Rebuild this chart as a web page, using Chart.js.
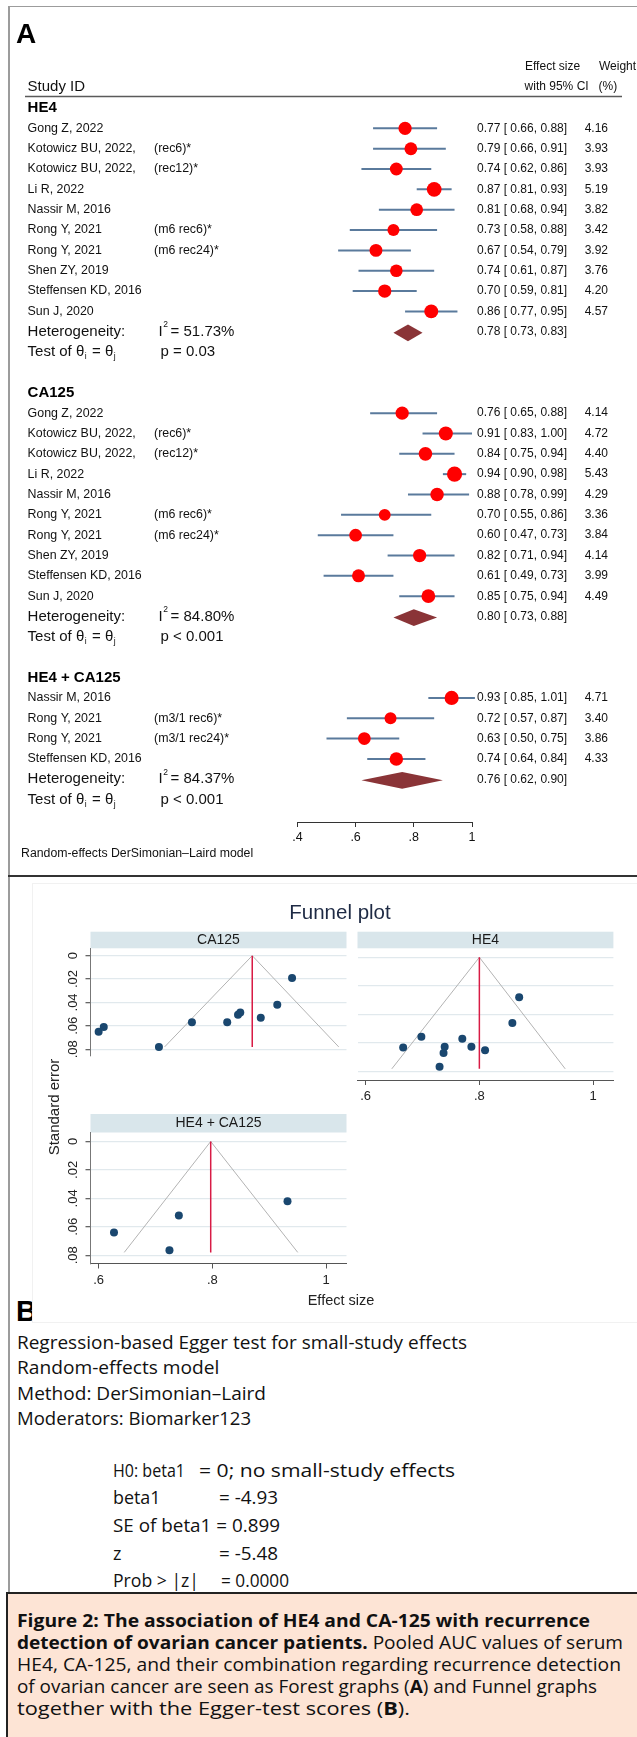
<!DOCTYPE html>
<html>
<head>
<meta charset="utf-8">
<script src="https://cdn.jsdelivr.net/npm/chart.js@4.4.1/dist/chart.umd.min.js"></script>
<style>
  html, body { margin: 0; padding: 0; background: #fff; }
  #page { position: relative; width: 637px; height: 1737px; overflow: hidden; background: #fff; }
  .abs { position: absolute; }
  canvas { position: absolute; z-index: 2; }
  .t { position: absolute; white-space: nowrap; transform-origin: 0 50%; line-height: 22px; height: 22px; color: #111; }
  .body17 { font-family: "Open Sans", "Noto Sans", sans-serif; font-size: 18px; }
  .cap { font-family: "Open Sans", "Noto Sans", sans-serif; font-size: 17.5px; color: #111; }
  .arial { font-family: "Liberation Sans", Arial, sans-serif; color: #222; }
</style>
</head>
<body>
<div id="page">
  <!-- outer frame and panel divider -->
  <div class="abs" style="left:8px;top:5.5px;width:629px;height:1.5px;background:#9c9c9c;"></div>
  <div class="abs" style="left:8px;top:5.5px;width:1.5px;height:1588px;background:#9c9c9c;"></div>
  <div class="abs" style="left:8px;top:874.5px;width:629px;height:2.2px;background:#333;"></div>

  <!-- panel letter B sits behind the funnel panel box -->
  <div class="abs" style="left:16px;top:1296px;font:bold 29px 'Liberation Sans', Arial, sans-serif;line-height:30px;color:#000;">B</div>
  <div class="abs" style="left:31.7px;top:883.3px;width:604px;height:437.4px;background:#fff;border:1px solid #f1f1f1;z-index:1;"></div>

  <canvas id="forest" width="637" height="875" style="left:0;top:0;width:637px;height:875px;"></canvas>
  <canvas id="funnelCa125" width="320" height="200" style="left:32px;top:884px;width:320px;height:200px;"></canvas>
  <canvas id="funnelHe4" width="280" height="230" style="left:352px;top:884px;width:280px;height:230px;"></canvas>
  <canvas id="funnelCombo" width="320" height="200" style="left:32px;top:1100px;width:320px;height:200px;"></canvas>

  <div class="abs arial" style="left:240px;top:898px;width:200px;text-align:center;font-size:20.5px;line-height:28px;color:#1e2a44;z-index:3;">Funnel plot</div>
  <div class="abs arial" style="left:4px;top:1098px;width:100px;text-align:center;font-size:15px;line-height:18px;transform:rotate(-90deg);z-index:3;">Standard error</div>
  <div class="abs arial" style="left:291px;top:1291px;width:100px;text-align:center;font-size:14.5px;line-height:18px;z-index:3;">Effect size</div>

  <!-- Egger regression output -->
  <div class="t body17" data-w="450" style="left:17px;top:1330.7px;">Regression-based Egger test for small-study effects</div>
  <div class="t body17" data-w="202.4" style="left:17px;top:1356.3px;">Random-effects model</div>
  <div class="t body17" data-w="249" style="left:17px;top:1381.7px;">Method: DerSimonian–Laird</div>
  <div class="t body17" data-w="234" style="left:17px;top:1407.3px;">Moderators: Biomarker123</div>

  <div class="t body17" data-w="72" style="left:113px;top:1459px;">H0: beta1</div>
  <div class="t body17" data-w="256" style="left:199px;top:1459px;">= 0; no small-study effects</div>
  <div class="t body17" data-w="47.5" style="left:113px;top:1485.7px;">beta1</div>
  <div class="t body17" data-w="59" style="left:219px;top:1485.7px;">= -4.93</div>
  <div class="t body17" data-w="167" style="left:113px;top:1514px;">SE of beta1 = 0.899</div>
  <div class="t body17" style="left:113px;top:1542.3px;">z</div>
  <div class="t body17" data-w="59" style="left:219px;top:1542.3px;">= -5.48</div>
  <div class="t body17" data-w="86" style="left:113px;top:1569px;">Prob &gt; |z|</div>
  <div class="t body17" data-w="68" style="left:221px;top:1569px;">= 0.0000</div>

  <!-- figure caption -->
  <div class="abs" style="left:6px;top:1592px;width:631px;height:145px;background:#fde4d5;border-top:2px solid #222;border-left:2px solid #222;"></div>
  <div class="t cap" data-w="573" style="left:17px;top:1609px;"><b>Figure 2: The association of HE4 and CA-125 with recurrence</b></div>
  <div class="t cap" data-w="606" style="left:17px;top:1631px;"><b>detection of ovarian cancer patients.</b> Pooled AUC values of serum</div>
  <div class="t cap" data-w="604" style="left:17px;top:1653px;">HE4, CA-125, and their combination regarding recurrence detection</div>
  <div class="t cap" data-w="580" style="left:17px;top:1675px;">of ovarian cancer are seen as Forest graphs (<b>A</b>) and Funnel graphs</div>
  <div class="t cap" data-w="393" style="left:17px;top:1697px;">together with the Egger-test scores (<b>B</b>).</div>
</div>

<script>
// ---------- forest plot data ----------
const groupNames = ['HE4', 'CA125', 'HE4 + CA125'];

const he4Study  = ['Gong Z, 2022', 'Kotowicz BU, 2022,', 'Kotowicz BU, 2022,', 'Li R, 2022', 'Nassir M, 2016',
                   'Rong Y, 2021', 'Rong Y, 2021', 'Shen ZY, 2019', 'Steffensen KD, 2016', 'Sun J, 2020'];
const he4Note   = ['', '(rec6)*', '(rec12)*', '', '', '(m6 rec6)*', '(m6 rec24)*', '', '', ''];
const he4Auc    = [0.77, 0.79, 0.74, 0.87, 0.81, 0.73, 0.67, 0.74, 0.70, 0.86];
const he4Lo     = [0.66, 0.66, 0.62, 0.81, 0.68, 0.58, 0.54, 0.61, 0.59, 0.77];
const he4Hi     = [0.88, 0.91, 0.86, 0.93, 0.94, 0.88, 0.79, 0.87, 0.81, 0.95];
const he4Weight = [4.16, 3.93, 3.93, 5.19, 3.82, 3.42, 3.92, 3.76, 4.20, 4.57];
const he4Pooled = [0.78, 0.73, 0.83];

const ca125Study  = ['Gong Z, 2022', 'Kotowicz BU, 2022,', 'Kotowicz BU, 2022,', 'Li R, 2022', 'Nassir M, 2016',
                     'Rong Y, 2021', 'Rong Y, 2021', 'Shen ZY, 2019', 'Steffensen KD, 2016', 'Sun J, 2020'];
const ca125Note   = ['', '(rec6)*', '(rec12)*', '', '', '(m6 rec6)*', '(m6 rec24)*', '', '', ''];
const ca125Auc    = [0.76, 0.91, 0.84, 0.94, 0.88, 0.70, 0.60, 0.82, 0.61, 0.85];
const ca125Lo     = [0.65, 0.83, 0.75, 0.90, 0.78, 0.55, 0.47, 0.71, 0.49, 0.75];
const ca125Hi     = [0.88, 1.00, 0.94, 0.98, 0.99, 0.86, 0.73, 0.94, 0.73, 0.94];
const ca125Weight = [4.14, 4.72, 4.40, 5.43, 4.29, 3.36, 3.84, 4.14, 3.99, 4.49];
const ca125Pooled = [0.80, 0.73, 0.88];

const comboStudy  = ['Nassir M, 2016', 'Rong Y, 2021', 'Rong Y, 2021', 'Steffensen KD, 2016'];
const comboNote   = ['', '(m3/1 rec6)*', '(m3/1 rec24)*', ''];
const comboAuc    = [0.93, 0.72, 0.63, 0.74];
const comboLo     = [0.85, 0.57, 0.50, 0.64];
const comboHi     = [1.01, 0.87, 0.75, 0.84];
const comboWeight = [4.71, 3.40, 3.86, 4.33];
const comboPooled = [0.76, 0.62, 0.90];

const i2Labels = ['51.73%', '84.80%', '84.37%'];
const pLabels  = ['p = 0.03', 'p < 0.001', 'p < 0.001'];

const forestTicks      = [0.4, 0.6, 0.8, 1];
const forestTickLabels = ['.4', '.6', '.8', '1'];

// ---------- funnel plot data (AUC against its standard error) ----------
const funnelCa125Auc = [0.600, 0.609, 0.706, 0.764, 0.826, 0.845, 0.849, 0.885, 0.914, 0.940];
const funnelCa125Se  = [0.065, 0.061, 0.078, 0.057, 0.057, 0.0505, 0.0485, 0.053, 0.042, 0.019];
const funnelHe4Auc   = [0.666, 0.698, 0.730, 0.739, 0.737, 0.770, 0.786, 0.810, 0.858, 0.870];
const funnelHe4Se    = [0.063, 0.0555, 0.0765, 0.0625, 0.067, 0.057, 0.0625, 0.065, 0.046, 0.028];
const funnelComboAuc = [0.627, 0.7245, 0.741, 0.932];
const funnelComboSe  = [0.064, 0.0765, 0.052, 0.042];

const funnelCentre = [0.87, 0.80, 0.797];   // CA125, HE4, HE4 + CA125
const funnelLeft   = [0.716, 0.646, 0.645];
const funnelRight  = [1.022, 0.951, 0.950];
const funnelSeMax  = 0.078;

const seTicks        = [0, 0.02, 0.04, 0.06, 0.08];
const seTickLabels   = ['0', '.02', '.04', '.06', '.08'];
const effTicks       = [0.6, 0.8, 1];
const effTickLabels  = ['.6', '.8', '1'];

// ---------- styling ----------
const FONT = '"Liberation Sans", Arial, sans-serif';
const font = (px, w) => (w ? w + ' ' : '') + px + 'px ' + FONT;
const ciColor = '#5a7a9c';
const markerColor = '#ff0000';
const diamondColor = '#8a3437';
const navy = '#1a476f';
const pooledLine = '#d81b45';
const funnelGrey = '#b3b3b3';
const gridColor = '#e1e9ed';
const stripColor = '#d9e6eb';

Chart.defaults.font.family = FONT;
Chart.defaults.color = '#222';

// ---------- build forest rows ----------
const groups = [
  { name: groupNames[0], study: he4Study, note: he4Note, auc: he4Auc, lo: he4Lo, hi: he4Hi, w: he4Weight, pooled: he4Pooled, i2: i2Labels[0], p: pLabels[0] },
  { name: groupNames[1], study: ca125Study, note: ca125Note, auc: ca125Auc, lo: ca125Lo, hi: ca125Hi, w: ca125Weight, pooled: ca125Pooled, i2: i2Labels[1], p: pLabels[1] },
  { name: groupNames[2], study: comboStudy, note: comboNote, auc: comboAuc, lo: comboLo, hi: comboHi, w: comboWeight, pooled: comboPooled, i2: i2Labels[2], p: pLabels[2] }
];
const forestPoints = [];
let row = 0;
groups.forEach(g => {
  g.headerRow = row;
  g.auc.forEach((a, i) => forestPoints.push({
    x: a, y: row + 1 + i, lo: g.lo[i], hi: g.hi[i], w: g.w[i], name: g.study[i], note: g.note[i]
  }));
  g.pooledRow = row + g.auc.length + 1.05;
  g.testRow = row + g.auc.length + 2;
  row += g.auc.length + 4;
});
const lastRow = row - 0.9;
const fmt = v => v.toFixed(2);

function text(ctx, s, x, y, f, align, color) {
  ctx.font = f;
  ctx.fillStyle = color || '#111';
  ctx.textAlign = align || 'left';
  ctx.textBaseline = 'middle';
  ctx.fillText(s, x, y);
}

const forestDecor = {
  id: 'forestDecor',
  beforeDatasetsDraw(chart) {
    const { ctx, scales: { x, y } } = chart;
    ctx.save();
    ctx.strokeStyle = ciColor;
    ctx.lineWidth = 2;
    forestPoints.forEach(p => {
      const py = y.getPixelForValue(p.y);
      ctx.beginPath();
      ctx.moveTo(x.getPixelForValue(p.lo), py);
      ctx.lineTo(x.getPixelForValue(p.hi), py);
      ctx.stroke();
    });
    ctx.fillStyle = diamondColor;
    groups.forEach(g => {
      const py = y.getPixelForValue(g.pooledRow);
      const [est, lo, hi] = g.pooled;
      ctx.beginPath();
      ctx.moveTo(x.getPixelForValue(lo), py);
      ctx.lineTo(x.getPixelForValue(est), py - 8.4);
      ctx.lineTo(x.getPixelForValue(hi), py);
      ctx.lineTo(x.getPixelForValue(est), py + 8.4);
      ctx.closePath();
      ctx.fill();
    });
    ctx.restore();
  },
  afterDraw(chart) {
    const { ctx, scales: { y } } = chart;
    ctx.save();
    // panel letter and column headings
    text(ctx, 'A', 16, 35.5, font(28, 'bold'), 'left', '#000');
    text(ctx, 'Study ID', 27.6, 86.5, font(15));
    text(ctx, 'Effect size', 525, 66.5, font(12));
    text(ctx, 'with 95% CI', 524.6, 86.5, font(12));
    text(ctx, 'Weight', 599, 66.5, font(12));
    text(ctx, '(%)', 598.5, 86.5, font(12));
    ctx.strokeStyle = '#5a5a5a';
    ctx.lineWidth = 1.5;
    ctx.beginPath(); ctx.moveTo(25, 96.5); ctx.lineTo(622, 96.5); ctx.stroke();

    groups.forEach(g => {
      text(ctx, g.name, 27.6, y.getPixelForValue(g.headerRow), font(15, 'bold'), 'left', '#000');
      // heterogeneity line with superscript
      const hy = y.getPixelForValue(g.pooledRow - 0.05);
      text(ctx, 'Heterogeneity:', 27.6, hy, font(15));
      text(ctx, 'I', 158.4, hy, font(15));
      text(ctx, '2', 163.2, hy - 7, font(8.5));
      text(ctx, '= ' + g.i2, 170.6, hy, font(15));
      text(ctx, `${fmt(g.pooled[0])} [ ${fmt(g.pooled[1])}, ${fmt(g.pooled[2])}]`, 477, hy, font(12));
      // test of homogeneity with subscripts
      const ty = y.getPixelForValue(g.testRow);
      ctx.font = font(15);
      const w1 = ctx.measureText('Test of θ').width;
      const w3 = ctx.measureText(' = θ').width;
      text(ctx, 'Test of θ', 27.6, ty, font(15));
      text(ctx, 'i', 27.6 + w1 + 0.5, ty + 5, font(8.5));
      text(ctx, ' = θ', 27.6 + w1 + 3.5, ty, font(15));
      text(ctx, 'j', 27.6 + w1 + 3.5 + w3 + 0.5, ty + 5, font(8.5));
      text(ctx, g.p, 160.5, ty, font(15));
    });

    forestPoints.forEach(p => {
      const py = y.getPixelForValue(p.y);
      text(ctx, p.name, 27.6, py, font(12.4));
      if (p.note) text(ctx, p.note, 154, py, font(12.4));
      text(ctx, `${fmt(p.x)} [ ${fmt(p.lo)}, ${fmt(p.hi)}]`, 477, py, font(12));
      text(ctx, p.w.toFixed(2), 608, py, font(12), 'right');
    });

    text(ctx, 'Random-effects DerSimonian–Laird model', 21, 854, font(12.3));
    ctx.restore();
  }
};

new Chart(document.getElementById('forest'), {
  type: 'scatter',
  data: {
    datasets: [{
      data: forestPoints,
      pointRadius: c => 3.25 * Math.sqrt(c.raw.w),
      pointHoverRadius: c => 3.25 * Math.sqrt(c.raw.w),
      pointBackgroundColor: markerColor,
      pointBorderWidth: 0,
      borderWidth: 0
    }]
  },
  options: {
    responsive: false,
    animation: false,
    events: [],
    layout: { padding: { left: 297.4, right: 165, top: 108, bottom: 23 } },
    plugins: { legend: { display: false }, tooltip: { enabled: false } },
    scales: {
      x: {
        type: 'linear', min: 0.4, max: 1.0,
        afterBuildTicks: s => { s.ticks = forestTicks.map(v => ({ value: v })); },
        afterFit: s => { s.height = 30; },
        ticks: { callback: (v, i) => forestTickLabels[i], font: { size: 12.5 }, color: '#111', padding: 3, maxRotation: 0, autoSkip: false },
        grid: { drawOnChartArea: false, drawTicks: true, tickLength: 5, tickColor: '#333', lineWidth: 1 },
        border: { display: true, color: '#333', width: 1 }
      },
      y: { type: 'linear', display: false, min: 0, max: lastRow, reverse: true }
    }
  },
  plugins: [forestDecor]
});

// ---------- funnel panels ----------
const stripAndLabels = {
  id: 'stripAndLabels',
  beforeDraw(chart, args, opts) {
    const { ctx, chartArea: a } = chart;
    ctx.save();
    ctx.fillStyle = stripColor;
    ctx.fillRect(a.left, a.top - opts.stripH, a.right - a.left, opts.stripH);
    text(ctx, opts.label, (a.left + a.right) / 2, a.top - opts.stripH / 2, font(14), 'center', '#1a1a1a');
    ctx.restore();
  },
  afterDraw(chart, args, opts) {
    if (!opts.yLabels) return;
    const { ctx, chartArea: a, scales: { y } } = chart;
    ctx.save();
    y.ticks.forEach((t, i) => {
      ctx.save();
      ctx.translate(a.left - 17.5, y.getPixelForValue(t.value));
      ctx.rotate(-Math.PI / 2);
      text(ctx, seTickLabels[i], 0, 0, font(13), 'center', '#222');
      ctx.restore();
    });
    ctx.restore();
  }
};

function funnelPanel(id, idx, auc, se, o) {
  return new Chart(document.getElementById(id), {
    type: 'scatter',
    data: {
      datasets: [
        { data: auc.map((a, i) => ({ x: a, y: se[i] })), pointRadius: 4, pointHoverRadius: 4,
          pointBackgroundColor: navy, pointBorderWidth: 0, borderWidth: 0 },
        { data: [{ x: funnelCentre[idx], y: 0 }, { x: funnelCentre[idx], y: funnelSeMax }],
          showLine: true, borderColor: pooledLine, borderWidth: 1.5, pointRadius: 0 },
        { data: [{ x: funnelLeft[idx], y: funnelSeMax }, { x: funnelCentre[idx], y: 0 }, { x: funnelRight[idx], y: funnelSeMax }],
          showLine: true, borderColor: funnelGrey, borderWidth: 1, pointRadius: 0 }
      ]
    },
    options: {
      responsive: false,
      animation: false,
      events: [],
      layout: { padding: o.padding },
      plugins: {
        legend: { display: false }, tooltip: { enabled: false },
        stripAndLabels: { label: o.label, stripH: o.stripH, yLabels: o.yAxis }
      },
      scales: {
        x: {
          type: 'linear', min: 0.5857, max: 1.0357, display: o.xAxis,
          afterBuildTicks: s => { s.ticks = effTicks.map(v => ({ value: v })); },
          afterFit: s => { s.height = 24; },
          ticks: { callback: (v, i) => effTickLabels[i], font: { size: 13 }, color: '#222', padding: 4, maxRotation: 0, autoSkip: false },
          grid: { drawOnChartArea: false, drawTicks: true, tickLength: 5, tickColor: '#555' },
          border: { display: true, color: '#555', width: 1 }
        },
        y: {
          type: 'linear', min: -0.0063, max: 0.0858, reverse: true, display: true,
          afterBuildTicks: s => { s.ticks = seTicks.map(v => ({ value: v })); },
          afterFit: s => { s.width = o.yAxis ? 6 : 0; },
          ticks: { display: false },
          grid: { color: gridColor, lineWidth: 1.3, drawTicks: o.yAxis, tickLength: 5, tickColor: '#666' },
          border: { display: o.yAxis, color: '#777', width: 1 }
        }
      }
    },
    plugins: [stripAndLabels]
  });
}

funnelPanel('funnelCa125', 0, funnelCa125Auc, funnelCa125Se,
  { label: 'CA125', stripH: 16.6, yAxis: true, xAxis: false, padding: { left: 52.5, right: 5.5, top: 64.3, bottom: 4 } });
funnelPanel('funnelHe4', 1, funnelHe4Auc, funnelHe4Se,
  { label: 'HE4', stripH: 16.6, yAxis: false, xAxis: true, padding: { left: 5.5, right: 18.6, top: 64.3, bottom: 10 } });
funnelPanel('funnelCombo', 2, funnelComboAuc, funnelComboSe,
  { label: 'HE4 + CA125', stripH: 18.5, yAxis: true, xAxis: true, padding: { left: 52.5, right: 5.5, top: 32.5, bottom: 12.5 } });

// ---------- text lines stretched to their set widths ----------
function fitLines() {
  document.querySelectorAll('[data-w]').forEach(el => {
    el.style.transform = 'none';
    const w = el.getBoundingClientRect().width;
    if (w > 0) el.style.transform = 'scaleX(' + (parseFloat(el.dataset.w) / w) + ')';
  });
}
fitLines();
if (document.fonts && document.fonts.ready) document.fonts.ready.then(fitLines);
</script>
</body>
</html>
